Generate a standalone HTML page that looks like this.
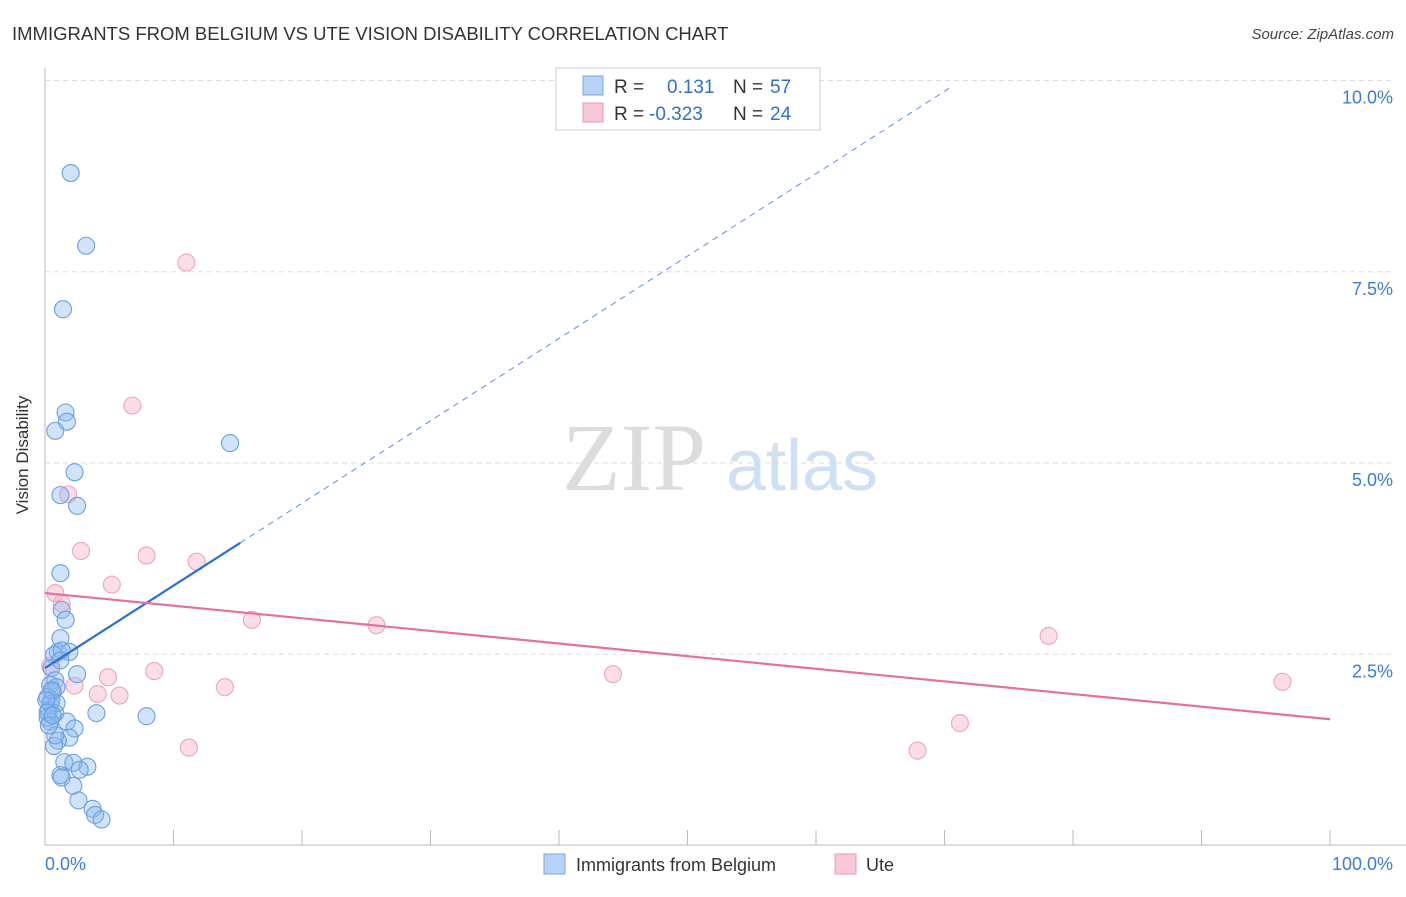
<!DOCTYPE html>
<html><head><meta charset="utf-8"><style>
body{margin:0;background:#fff;font-family:"Liberation Sans",sans-serif;}
</style></head><body>
<svg width="1406" height="892" xmlns="http://www.w3.org/2000/svg" id="chart" font-family="Liberation Sans, sans-serif">
<text x="12" y="40" font-size="18.5" fill="#333">IMMIGRANTS FROM BELGIUM VS UTE VISION DISABILITY CORRELATION CHART</text>
<text x="1394" y="39" font-size="15" fill="#444" text-anchor="end" font-style="italic">Source: ZipAtlas.com</text>
<text x="28" y="455" font-size="17" fill="#333" text-anchor="middle" transform="rotate(-90 28 455)">Vision Disability</text>
<g id="grid"></g>
<g id="wm">
<text x="634" y="490" font-size="96" fill="#dcdcdc" text-anchor="middle" style="font-family:'Liberation Serif',serif">ZIP</text>
<text x="802" y="490" font-size="72" fill="#cfe0f3" text-anchor="middle">atlas</text></g>
<g id="marks"></g>
<g id="legend">
<rect x="556" y="68" width="264" height="62" fill="#fff" stroke="#ccc"/>
<rect x="583" y="76" width="20" height="19" fill="#b8d3f5" stroke="#7aa7e0"/>
<rect x="583" y="103" width="20" height="19" fill="#f9c8d6" stroke="#e89ab0"/>
<text x="614" y="93" font-size="19" fill="#333">R =</text><text x="667" y="93" font-size="19" fill="#2f6fce">0.131</text>
<text x="733" y="93" font-size="19" fill="#333">N =</text><text x="770" y="93" font-size="19" fill="#2f6fce">57</text>
<text x="614" y="120" font-size="19" fill="#333">R =</text><text x="649" y="120" font-size="19" fill="#2f6fce">-0.323</text>
<text x="733" y="120" font-size="19" fill="#333">N =</text><text x="770" y="120" font-size="19" fill="#2f6fce">24</text>
</g>
<g>
<rect x="544" y="854" width="21" height="20" fill="#b8d3f5" stroke="#7aa7e0"/>
<text x="576" y="871" font-size="18" fill="#333">Immigrants from Belgium</text>
<rect x="835" y="854" width="21" height="20" fill="#f9c8d6" stroke="#e89ab0"/>
<text x="866" y="871" font-size="18" fill="#333">Ute</text>
</g>
</svg>
<script>
const blueX=[2.0,3.2,1.4,1.6,1.7,0.8,14.4,2.3,1.2,2.5,1.2,1.3,1.6,1.2,1.0,0.7,1.9,1.3,0.5,2.5,0.8,0.4,0.9,0.6,0.2,0.5,0.4,0.3,0.8,4.0,7.9,0.4,1.7,2.3,1.9,1.0,0.7,1.5,2.2,3.3,2.7,1.2,1.3,2.2,2.6,3.7,3.9,4.4,0.2,0.8,0.9,0.5,1.2,0.1,0.2,0.3,0.6];
const blueY=[8.79,7.84,7.01,5.66,5.54,5.42,5.26,4.88,4.58,4.44,3.56,3.08,2.95,2.71,2.53,2.49,2.53,2.55,2.32,2.24,2.16,2.10,2.07,2.01,1.94,1.90,1.85,1.77,1.73,1.73,1.69,1.62,1.62,1.53,1.41,1.37,1.30,1.09,1.08,1.03,0.99,0.92,0.89,0.78,0.59,0.48,0.40,0.34,1.67,1.44,1.86,2.03,2.42,1.90,1.74,1.57,1.70];
const pinkX=[11.0,6.8,1.8,2.8,7.9,11.8,5.2,0.8,1.3,16.1,25.8,78.1,8.5,4.9,2.3,14.0,44.2,4.1,5.8,96.3,11.2,67.9,71.2,0.4];
const pinkY=[7.62,5.75,4.59,3.85,3.79,3.71,3.41,3.30,3.16,2.95,2.88,2.74,2.28,2.20,2.09,2.07,2.24,1.98,1.96,2.14,1.28,1.24,1.60,2.35];
const yTicks=[2.5,5.0,7.5,10.0];
const X0=45,X1=1330,YB=845.5,PY=76.5;
const sx=v=>X0+(v/100)*(X1-X0), sy=v=>YB-v*PY;
const NS="http://www.w3.org/2000/svg";
const svg=document.getElementById('chart'),grid=document.getElementById('grid'),marks=document.getElementById('marks');
function mk(tag,at,parent){const e=document.createElementNS(NS,tag);for(const k in at)e.setAttribute(k,at[k]);parent.appendChild(e);return e;}
let ax=mk('line',{x1:45,y1:68,x2:45,y2:845,stroke:'#bbb'},grid);


let bx=mk('line',{x1:45,y1:845,x2:1406,y2:845,stroke:'#bbb'},grid);


for(let i=1;i<=10;i++){const x=X0+i*(X1-X0)/10;let t=mk('line',{x1:x,y1:830,x2:x,y2:845,stroke:'#bbb'},grid);

}
yTicks.forEach(v=>{let g=mk('line',{x1:45,y1:sy(v),x2:1394,y2:sy(v),stroke:'#ddd','stroke-dasharray':'5,4'},grid);


let t=mk('text',{x:1393,y:sy(v)+23,'font-size':18,fill:'#3d7bd6','text-anchor':'end'},grid);t.textContent=v.toFixed(1)+'%';

});
let l0=mk('text',{x:45,y:870,'font-size':18,fill:'#3d7bd6'},grid);l0.textContent='0.0%';


let l1=mk('text',{x:1393,y:870,'font-size':18,fill:'#3d7bd6','text-anchor':'end'},grid);l1.textContent='100.0%';


pinkX.forEach((v,i)=>{let c=mk('circle',{cx:sx(v),cy:sy(pinkY[i]),r:8.5,fill:'rgba(246,170,195,0.4)',stroke:'#eda5bb','stroke-width':1.1},marks);

});
blueX.forEach((v,i)=>{let c=mk('circle',{cx:sx(v),cy:sy(blueY[i]),r:8.5,fill:'rgba(140,185,240,0.4)',stroke:'#6a9fe0','stroke-width':1.1},marks);

});
const bi=2.32,bs=0.1077,bEnd=15.2,bDash=70.5;
let bl=mk('line',{x1:sx(0),y1:sy(bi),x2:sx(bEnd),y2:sy(bi+bs*bEnd),stroke:'#2a6fd6','stroke-width':2.2},marks);


let bd=mk('line',{x1:sx(bEnd),y1:sy(bi+bs*bEnd),x2:sx(bDash),y2:sy(bi+bs*bDash),stroke:'#5c8fd8','stroke-width':1,'stroke-dasharray':'6,5'},marks);


const pi0=3.30,pi1=1.65;
let pl=mk('line',{x1:sx(0),y1:sy(pi0),x2:sx(100),y2:sy(pi1),stroke:'#e5709a','stroke-width':2.2},marks);


</script>
</body></html>
